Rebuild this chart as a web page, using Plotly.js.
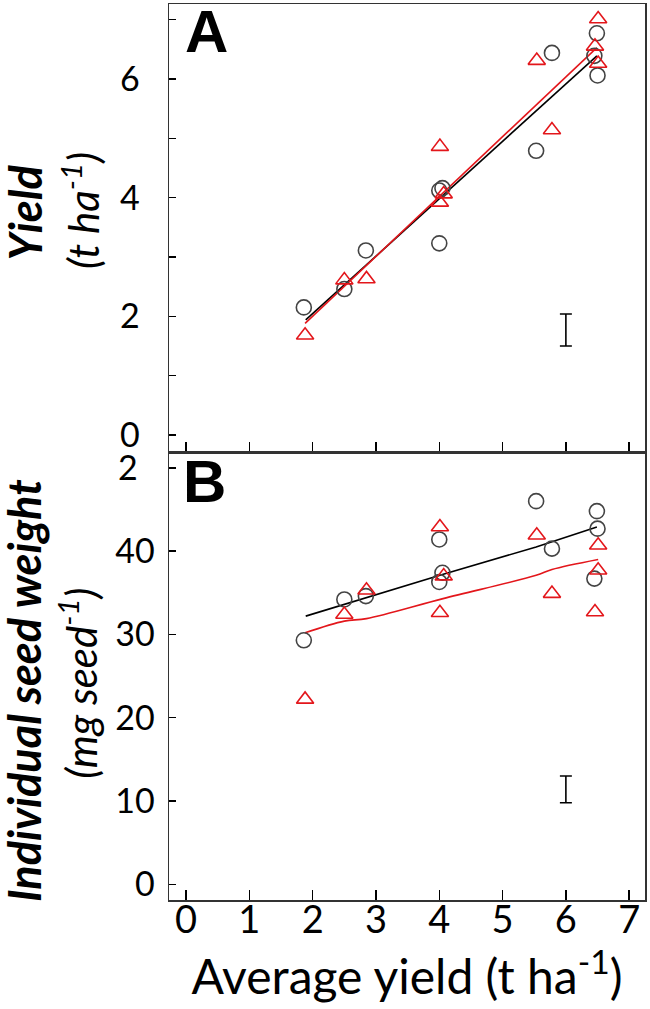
<!DOCTYPE html>
<html>
<head>
<meta charset="utf-8">
<script src="https://cdn.plot.ly/plotly-3.0.1.min.js"></script>
<style>html,body{margin:0;padding:0;background:#fff;}#chart{width:650px;height:1009px;}</style>
</head>
<body>
<div id="chart"></div>
<script>
// Genotype 1 (open circles) – average yield of environment (x)
const xCircle = [1.86, 2.50, 2.84, 4.00, 4.00, 4.05, 5.53, 5.78, 6.45, 6.49, 6.50];
const yieldCircle = [2.15, 2.46, 3.11, 3.23, 4.12, 4.16, 4.79, 6.44, 6.39, 6.77, 6.06];
const seedCircle = [29.3, 34.2, 34.6, 41.4, 36.3, 37.4, 46.0, 40.3, 36.7, 44.8, 42.7];

// Genotype 2 (open triangles)
const xTriangle = [1.88, 2.50, 2.85, 4.01, 4.01, 4.07, 5.54, 5.78, 6.46, 6.51, 6.51];
const yieldTriangle = [1.68, 2.61, 2.63, 4.86, 3.92, 4.06, 6.31, 5.14, 6.55, 7.01, 6.26];
const seedTriangle = [22.2, 32.4, 35.3, 42.9, 32.6, 37.0, 41.9, 34.9, 32.7, 40.7, 37.7];

// Fitted lines
const fitYieldBlackX = [1.89, 6.49];
const fitYieldBlackY = [1.94, 6.39];
const fitYieldRedX = [1.88, 6.49];
const fitYieldRedY = [1.88, 6.53];
const fitSeedBlackX = [1.89, 4.05, 5.53, 6.49];
const fitSeedBlackY = [32.2, 37.2, 40.5, 42.9];
const fitSeedRedX = [1.88, 2.50, 2.85, 4.06, 5.53, 5.78, 6.51];
const fitSeedRedY = [30.2, 31.6, 31.9, 34.3, 37.1, 37.8, 39.0];

// LSD error bars
const errX = [6];
const errYieldY = [1.77];
const errYieldHalf = [0.27];
const errSeedY = [11.4];
const errSeedHalf = [1.6];

// Tick labels
const xTicks = [0, 1, 2, 3, 4, 5, 6, 7];
const yieldTicks = [0, 1, 2, 3, 4, 5, 6, 7];
const yieldTickText = ['0', '', '2', '', '4', '', '6', ''];
const seedTicks = [0, 10, 20, 30, 40, 50];
const seedTickText = ['0', '10', '20', '30', '40', '2\u2002'];

const RED = '#e3161b';
const GREY = '#444444';
const FONT = 'Lato, "Open Sans", sans-serif';

const traces = [
  {x: fitYieldBlackX, y: fitYieldBlackY, xaxis: 'x', yaxis: 'y', mode: 'lines', line: {color: '#000', width: 1.6}, hoverinfo: 'skip'},
  {x: fitYieldRedX, y: fitYieldRedY, xaxis: 'x', yaxis: 'y', mode: 'lines', line: {color: RED, width: 1.6}, hoverinfo: 'skip'},
  {x: xCircle, y: yieldCircle, xaxis: 'x', yaxis: 'y', mode: 'markers', marker: {symbol: 'circle-open', size: 15, color: GREY, line: {width: 1.6}}},
  {x: xTriangle, y: yieldTriangle, xaxis: 'x', yaxis: 'y', mode: 'markers', marker: {symbol: 'triangle-up-open', size: 15, color: RED, line: {width: 1.6}}},
  {x: errX, y: errYieldY, xaxis: 'x', yaxis: 'y', mode: 'markers', marker: {size: 1, color: 'rgba(0,0,0,0)'},
   error_y: {type: 'data', array: errYieldHalf, visible: true, color: '#000', thickness: 1.6, width: 6}},

  {x: fitSeedBlackX, y: fitSeedBlackY, xaxis: 'x2', yaxis: 'y2', mode: 'lines', line: {color: '#000', width: 1.6}, hoverinfo: 'skip'},
  {x: fitSeedRedX, y: fitSeedRedY, xaxis: 'x2', yaxis: 'y2', mode: 'lines', line: {color: RED, width: 1.6, shape: 'spline'}, hoverinfo: 'skip'},
  {x: xCircle, y: seedCircle, xaxis: 'x2', yaxis: 'y2', mode: 'markers', marker: {symbol: 'circle-open', size: 15, color: GREY, line: {width: 1.6}}},
  {x: xTriangle, y: seedTriangle, xaxis: 'x2', yaxis: 'y2', mode: 'markers', marker: {symbol: 'triangle-up-open', size: 15, color: RED, line: {width: 1.6}}},
  {x: errX, y: errSeedY, xaxis: 'x2', yaxis: 'y2', mode: 'markers', marker: {size: 1, color: 'rgba(0,0,0,0)'},
   error_y: {type: 'data', array: errSeedHalf, visible: true, color: '#000', thickness: 1.6, width: 6}}
];

const axisCommon = {
  showline: true, mirror: true, linecolor: '#333', linewidth: 1.5,
  ticks: 'inside', tickwidth: 1.5, tickcolor: '#000',
  showgrid: false, zeroline: false, fixedrange: true
};

const layout = {
  width: 650, height: 1009,
  margin: {l: 169, r: 5, t: 4, b: 109},
  paper_bgcolor: '#fff', plot_bgcolor: '#fff',
  showlegend: false,
  font: {family: FONT, color: '#000'},
  xaxis: Object.assign({}, axisCommon, {domain: [0, 1], anchor: 'y', range: [-0.27, 7.25], tickvals: xTicks, ticklen: 10, showticklabels: false}),
  yaxis: Object.assign({}, axisCommon, {domain: [0.5, 1], anchor: 'x', range: [-0.287, 7.264], tickvals: yieldTicks, ticktext: yieldTickText, ticklen: 7,
    tickfont: {size: 34, family: FONT}, ticklabelstandoff: 21}),
  xaxis2: Object.assign({}, axisCommon, {domain: [0, 1], anchor: 'y2', range: [-0.27, 7.25], tickvals: xTicks, ticklen: 10,
    tickfont: {size: 38, family: FONT}, ticklabelstandoff: -14,
    title: {text: 'Average yield (t ha<sup>-1</sup>)', font: {size: 48, family: FONT}, standoff: 8}}),
  yaxis2: Object.assign({}, axisCommon, {domain: [0, 0.5], anchor: 'x2', range: [-1.88, 51.9], tickvals: seedTicks, ticktext: seedTickText, ticklen: 7,
    tickfont: {size: 34, family: FONT}, ticklabelstandoff: 6}),
  annotations: [
    {text: '<b>A</b>', xref: 'x', yref: 'y', x: 0.33, y: 6.80, showarrow: false, xanchor: 'center', yanchor: 'middle', font: {size: 60, family: 'Liberation Sans, Arial, sans-serif', color: '#000'}},
    {text: '<b>B</b>', xref: 'x2', yref: 'y2', x: 0.29, y: 48.35, showarrow: false, xanchor: 'center', yanchor: 'middle', font: {size: 60, family: 'Liberation Sans, Arial, sans-serif', color: '#000'}},
    {text: '<b><i>Yield</i></b>', xref: 'paper', yref: 'paper', x: -0.303, y: 0.767, textangle: -90, showarrow: false, xanchor: 'center', yanchor: 'middle', font: {size: 45, family: FONT}},
    {text: '<i>(t ha<sup>-1</sup>)</i>', xref: 'paper', yref: 'paper', x: -0.185, y: 0.770, textangle: -90, showarrow: false, xanchor: 'center', yanchor: 'middle', font: {size: 42, family: FONT}},
    {text: '<b><i>Individual seed weight</i></b>', xref: 'paper', yref: 'paper', x: -0.303, y: 0.234, textangle: -90, showarrow: false, xanchor: 'center', yanchor: 'middle', font: {size: 45, family: FONT}},
    {text: '<i>(mg seed<sup>-1</sup>)</i>', xref: 'paper', yref: 'paper', x: -0.190, y: 0.242, textangle: -90, showarrow: false, xanchor: 'center', yanchor: 'middle', font: {size: 42, family: FONT}}
  ]
};

Plotly.newPlot('chart', traces, layout, {displayModeBar: false, staticPlot: true});
</script>
</body>
</html>
